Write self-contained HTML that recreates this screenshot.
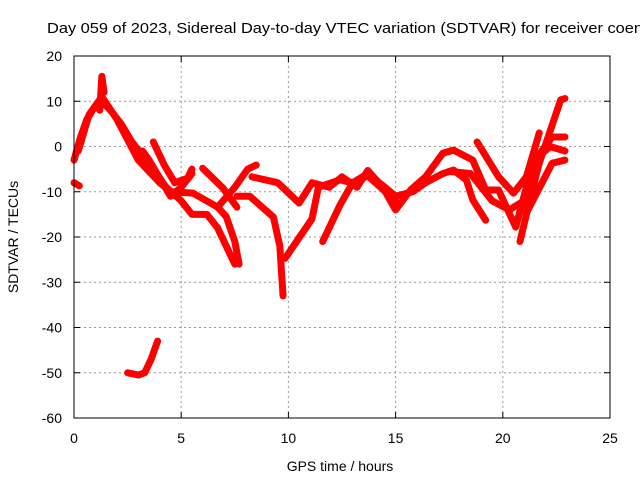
<!DOCTYPE html>
<html><head><meta charset="utf-8"><style>
body{margin:0;background:#fff}
svg{display:block;font-family:"Liberation Sans",sans-serif}
</style></head><body>
<svg id="c" width="640" height="480">
<rect width="640" height="480" fill="#fff"/>
<text x="47" y="33" font-size="14.5" textLength="596" lengthAdjust="spacingAndGlyphs">Day 059 of 2023, Sidereal Day-to-day VTEC variation (SDTVAR) for receiver coen</text>
<g id="grid"></g><g id="ticks"></g><g id="series"></g>
<rect x="74" y="56" width="536" height="362" fill="none" stroke="#000" stroke-width="1"/>
<text x="340" y="471" font-size="14" text-anchor="middle">GPS time / hours</text>
<text transform="translate(18,237) rotate(-90)" font-size="14" text-anchor="middle">SDTVAR / TECUs</text>
</svg>
<script>
const xTicks=[0,5,10,15,20,25];
const yTicks=[20,10,0,-10,-20,-30,-40,-50,-60];
const s1=[[0,-3],[0.3,2],[0.6,6],[1,9],[1.3,10],[1.7,8],[2.2,5],[2.7,1],[3.2,-2],[3.7,-5],[4.3,-9],[5,-12],[5.5,-15],[6.2,-15],[6.7,-18],[7.2,-23],[7.5,-26]];
const s2=[[0.2,-1],[0.7,7],[1.3,11],[2,6],[3,-3],[4,-8],[4.5,-10],[5.55,-10.3],[6.7,-13.4],[7.1,-15.5],[7.5,-21],[7.7,-26]];
const s3=[[1.2,8],[1.3,15.5],[1.4,12]];
const s4=[[3.2,-1],[3.5,-3],[4,-7],[4.5,-11],[5,-9],[5.5,-6]];
const s5=[[3.7,1],[4.2,-4],[4.7,-8],[5.3,-7],[5.5,-5]];
const s6=[[6,-4.8],[6.95,-9.2],[7.6,-13.4]];
const s7=[[6.7,-13.4],[7.5,-9],[8.1,-5],[8.5,-4.1]];
const s8=[[7.6,-11],[8.2,-11],[9.3,-15.6],[9.6,-22],[9.75,-33]];
const s9=[[8.3,-6.7],[9.5,-8],[10.5,-12.5],[11.1,-8],[11.9,-9],[12.5,-6.7],[13.2,-9],[13.7,-5.3],[14.4,-9],[15,-14],[15.7,-9.6],[16.4,-6.7],[17.2,-1.5],[17.7,-0.8],[18.6,-3],[19.2,-9.6],[19.8,-9.6],[20.6,-17.8],[21.4,-3.7],[22.3,2.1],[22.9,2.1]];
const s10=[[9.85,-24.7],[11.1,-16],[11.4,-9],[12.4,-7.4],[13,-8],[13.7,-6],[14.5,-9],[15,-11],[15.8,-10],[16.4,-8],[17.2,-6],[17.7,-5.2],[18.3,-7.4],[18.6,-11.8],[19.2,-16.3]];
const s11=[[11.6,-21],[12.4,-13],[13,-8],[13.7,-6.5],[14.3,-9],[15,-12]];
const s12=[[18.8,1],[19.8,-6.7],[20.5,-10.3],[21.1,-6.7],[21.7,3]];
const s13=[[20.8,-21],[21.3,-11],[21.7,-3.7],[22.7,10.3],[22.9,10.6]];
const s14=[[21.1,-14.7],[22.3,-3.7],[22.9,-3]];
const s15=[[17.5,-5.5],[18.5,-6],[19.5,-12],[20.3,-14],[21,-12],[21.5,-3],[22.2,0],[22.9,-1]];
const s16=[[2.5,-50],[3,-50.5],[3.3,-50],[3.6,-47],[3.9,-43]];
const s17=[[0,-8],[0.25,-8.7]];
const seriesList=[s1,s2,s3,s4,s5,s6,s7,s8,s9,s10,s11,s12,s13,s14,s15,s16,s17];
const X=h=>74+h*(536/25), Y=v=>56+(20-v)*(362/80);
const NS="http://www.w3.org/2000/svg";
const grid=document.getElementById('grid'),ticks=document.getElementById('ticks'),ser=document.getElementById('series');
function mk(t,a,p){const e=document.createElementNS(NS,t);for(const k in a)e.setAttribute(k,a[k]);p.appendChild(e);return e;}
xTicks.forEach(t=>{
 if(t>0&&t<25){const g=mk('line',{x1:X(t),x2:X(t),y1:56,y2:418,stroke:'#999','stroke-dasharray':'2,3'},grid);
 
 }
 const l=mk('text',{x:X(t),y:443,'font-size':14,'text-anchor':'middle'},ticks);l.textContent=t;
 
 
 mk('line',{x1:X(t),x2:X(t),y1:418,y2:412,stroke:'#000'},ticks);mk('line',{x1:X(t),x2:X(t),y1:56,y2:62,stroke:'#000'},ticks);
});
yTicks.forEach(t=>{
 if(t<20&&t>-60){const g=mk('line',{x1:74,x2:610,y1:Y(t),y2:Y(t),stroke:'#999','stroke-dasharray':'2,3'},grid);
 
 }
 const l=mk('text',{x:62,y:Y(t)+5,'font-size':14,'text-anchor':'end'},ticks);l.textContent=t;
 
 
 mk('line',{x1:74,x2:80,y1:Y(t),y2:Y(t),stroke:'#000'},ticks);mk('line',{x1:604,x2:610,y1:Y(t),y2:Y(t),stroke:'#000'},ticks);
});
seriesList.forEach((s,i)=>{
 const p=mk('polyline',{points:s.map(d=>X(d[0])+','+Y(d[1])).join(' '),fill:'none',stroke:'#f00','stroke-width':7,'stroke-linejoin':'round','stroke-linecap':'round'},ser);
 
 
});
</script>
</body></html>
